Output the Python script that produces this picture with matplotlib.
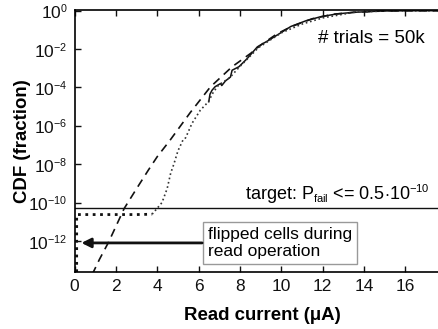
import matplotlib
matplotlib.use('Agg')
import matplotlib.pyplot as plt
import matplotlib._mathtext as mathtext_internal
from matplotlib.ticker import FixedLocator, NullLocator, LogFormatterSciNotation

plt.rcParams['font.family'] = ['Liberation Sans', 'DejaVu Sans']
plt.rcParams['mathtext.fontset'] = 'custom'
plt.rcParams['mathtext.rm'] = 'Liberation Sans'
plt.rcParams['mathtext.it'] = 'Liberation Sans:italic'
plt.rcParams['mathtext.bf'] = 'Liberation Sans:bold'
# smaller exponents, like the original figure
mathtext_internal.SHRINK_FACTOR = 0.62

# model curve (dashed)
model_x = [0.85, 1.2, 1.65, 2.4, 3.0, 3.57, 4.0, 4.62, 5.6, 6.57, 7.62, 8.52, 9.0,
           9.8, 10.5, 11.5, 12.5, 13.5, 14.5, 16.0, 18.0]
model_y = [1.8e-14, 1.1e-13, 9e-13, 5e-11, 5.4e-10, 5e-9, 2.5e-8, 1.8e-7, 5e-6, 1.07e-4,
           1.2e-3, 6e-3, 1.6e-2, 6.3e-2, 0.15, 0.38, 0.65, 0.82, 0.93, 0.99, 1.0]

# 50k trials Monte Carlo (solid)
mc_x = [6.49, 6.55, 6.65, 6.8, 7.06, 7.12, 7.3, 7.54, 7.62, 7.95, 8.35, 8.84, 9.41,
        9.98, 10.46, 11.2, 11.92, 12.7, 13.5, 14.84, 16.0, 18.0]
mc_y = [1.8e-5, 4.5e-5, 7.2e-5, 1.1e-4, 1.6e-4, 1.26e-4, 2.2e-4, 3.5e-4, 7.9e-4, 1.2e-3,
        3.2e-3, 1.3e-2, 2.95e-2, 7.1e-2, 0.15, 0.30, 0.49, 0.68, 0.82, 0.96, 0.99, 1.0]

# importance sampling estimate (dotted)
is_x = [0.1, 0.1, 1.0, 2.0, 3.0, 3.75, 3.99, 4.23, 4.48, 4.65, 4.8, 5.0, 5.24, 5.3,
        5.38, 5.68, 6.08, 6.47, 6.72, 6.96, 7.5, 8.0, 8.9, 10.0, 11.0, 12.0, 13.5, 15.0, 18.0]
is_y = [1e-14, 2.4e-11, 2.4e-11, 2.4e-11, 2.4e-11, 2.5e-11, 5e-11, 1.02e-10, 5.5e-10,
        3.5e-9, 1e-8, 5e-8, 1.8e-7, 1.9e-7, 2.5e-7, 1.35e-6, 6.5e-6, 1.8e-5, 5.9e-5,
        1.3e-4, 3.2e-4, 1.25e-3, 1.2e-2, 7e-2, 0.2, 0.42, 0.82, 0.97, 1.0]
n_flat = 6  # points of the flat low part (drawn heavier)

target = 0.5e-10
y_ticks = [1e-12, 1e-10, 1e-8, 1e-6, 1e-4, 1e-2, 1e0]
x_ticks = [0, 2, 4, 6, 8, 10, 12, 14, 16]

fig = plt.figure(figsize=(4.38, 3.29), dpi=100)
ax = fig.add_axes([0.1703, 0.1733, 0.8495, 0.7978])

ax.plot(model_x, model_y, color='#111111', linestyle=(0, (5, 3.5)), linewidth=1.2)
ax.plot(mc_x, mc_y, color='#111111', linewidth=1.1)
ax.plot(is_x[:n_flat], is_y[:n_flat], color='#111111', linestyle=':', linewidth=2.0)
ax.plot(is_x[n_flat - 1:], is_y[n_flat - 1:], color='#333333', linestyle=':', linewidth=1.2)

ax.axhline(target, color='#111111', linewidth=1.0)

ax.set_yscale('log')
ax.set_xlim(0, 18)
ax.set_ylim(2.45e-14, 1.15)
ax.yaxis.set_major_locator(FixedLocator(y_ticks))
ax.yaxis.set_major_formatter(LogFormatterSciNotation())
ax.yaxis.set_minor_locator(NullLocator())
ax.xaxis.set_major_locator(FixedLocator(x_ticks))

ax.tick_params(direction='in', length=4, width=1, top=True, right=True,
               labelsize=12.5, pad=5, colors='#111111')
for s in ax.spines.values():
    s.set_linewidth(1.2)

ax.set_xlabel('Read current (\u03bcA)', fontsize=13.4, fontweight='bold')
ax.set_ylabel('CDF (fraction)', fontsize=13.4, fontweight='bold')
ax.xaxis.set_label_coords(0.506, -0.133)
ax.yaxis.set_label_coords(-0.118, 0.5)

ax.text(16.95, 0.037, '# trials = 50k', fontsize=13.5, ha='right', va='center')
ax.text(17.19, 1.3e-10, r'target: P$_{\mathrm{fail}}$ <= 0.5$\cdot$10$^{-10}$',
        fontsize=13, ha='right', va='baseline')

ax.text(6.44, 8e-13, 'flipped cells during\nread operation', fontsize=12.5,
        ha='left', va='center', linespacing=1.15,
        bbox=dict(boxstyle='square,pad=0.3', facecolor='white', edgecolor='#999999', linewidth=1))
ax.annotate('', xy=(0.33, 8e-13), xytext=(6.17, 8e-13),
            arrowprops=dict(arrowstyle='-|>', color='#111111', lw=2,
                            mutation_scale=14, shrinkA=0, shrinkB=0))

fig.savefig('out.png', dpi=100)
